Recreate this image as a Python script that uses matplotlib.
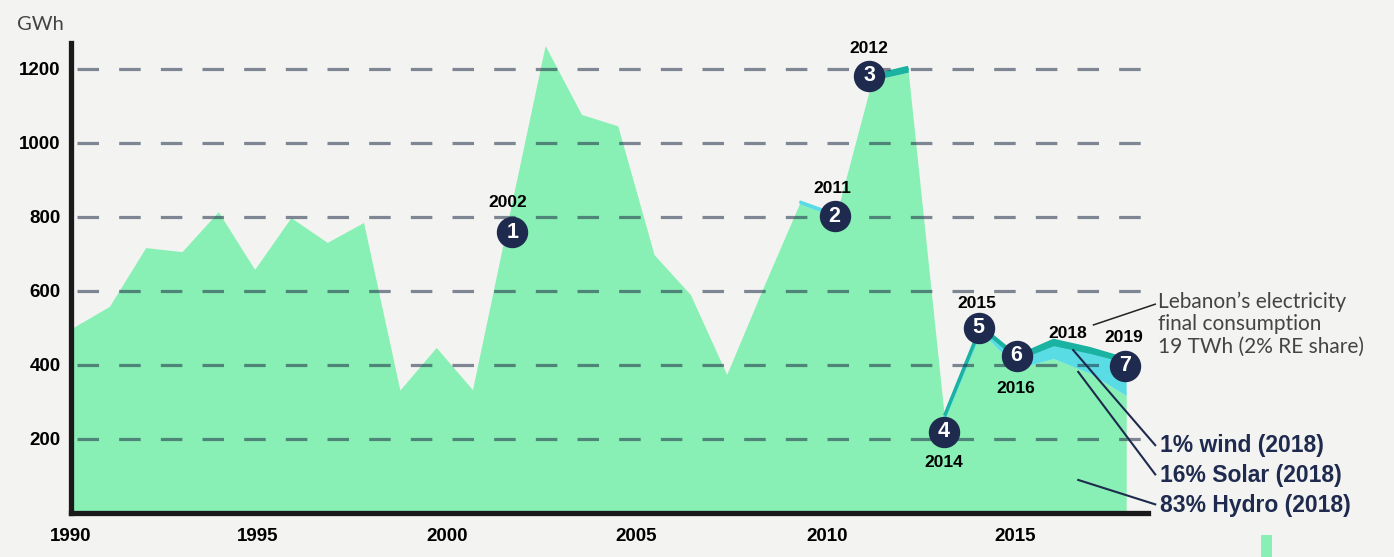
import numpy as np
import matplotlib
matplotlib.use("Agg")
import matplotlib.pyplot as plt
from matplotlib.patches import Rectangle

plt.rcParams['lines.scale_dashes'] = False

# ---------------- data ----------------
years = np.arange(1990, 2020)
hydro = [500, 557, 716, 705, 813, 657, 797, 730, 784, 331,
         446, 332, 800, 1262, 1076, 1045, 697, 589, 373, 607,
         834, 798, 1168, 1190, 252, 488, 390, 416, 376, 316]
solar = [0, 0, 0, 0, 0, 0, 0, 0, 0, 0,
         0, 0, 0, 0, 0, 0, 0, 0, 0, 0,
         6, 7, 0, 0, 4, 7, 22, 35, 54, 89]
wind = [0, 0, 0, 0, 0, 0, 0, 0, 0, 0,
        0, 0, 0, 0, 0, 0, 0, 0, 0, 0,
        0, 0, 12, 13, 6, 8, 10, 14, 13, 9]
solar_segments = [(2010, 2011), (2014, 2019)]
wind_segments = [(2012, 2013), (2014, 2019)]

yticks = [200, 400, 600, 800, 1000, 1200]
xtick_labels = ["1990", "1995", "2000", "2005", "2010", "2015"]
xtick_pos = [1989.93, 1995.07, 2000.29, 2005.51, 2010.76, 2015.95]

ann_numbers = ["1", "2", "3", "4", "5", "6", "7"]
ann_x = [2002.1, 2010.97, 2011.93, 2013.98, 2014.94, 2015.98, 2018.97]
ann_y = [758, 801, 1180, 218, 499, 423, 396]

year_labels = ["2002", "2011", "2012", "2014", "2015", "2016", "2018", "2019"]
year_label_x = [2001.96, 2010.92, 2011.91, 2013.97, 2014.9, 2015.95, 2017.4, 2018.92]
year_label_y = [839, 877, 1255, 134, 566, 336, 485, 472]

share_labels = ["1% wind (2018)", "16% Solar (2018)", "83% Hydro (2018)"]
share_label_y = [180, 101, 20]
share_line_start = [(2017.54, 439), (2017.68, 380), (2017.68, 88)]
total_label = "Lebanon’s electricity\nfinal consumption\n19 TWh (2% RE share)"

# ---------------- style ----------------
BG = "#F3F3F1"
GREEN = "#88F0B4"
CYAN = "#5ADCE4"
TEAL = "#1AB2A0"
NAVY = "#1E2A4E"
BOLD = "Liberation Sans"
LIGHT = "Lato"

hydro = np.array(hydro, float)
solar = np.array(solar, float)
wind = np.array(wind, float)
hs = hydro + solar
total = hs + wind

W, H = 1394, 557
fig = plt.figure(figsize=(W / 100, H / 100), dpi=100, facecolor=BG)
left_px, right_px, bottom_px, top_px = 70.5, 1160, 512.5, 43
ax = fig.add_axes([left_px / W, (H - bottom_px) / H,
                   (right_px - left_px) / W, (bottom_px - top_px) / H])
ax.set_facecolor("none")
xmin = 1990.0
xmax = 1990 + (right_px - left_px) / 36.4
ax.set_xlim(xmin, xmax)
ax.set_ylim(0, (bottom_px - top_px) / 0.37)

# hydro area
ax.fill_between(years, 0, hydro, color=GREEN, lw=0, zorder=1)
# solar and wind layers
for a, b in solar_segments:
    m = (years >= a) & (years <= b)
    ax.fill_between(years[m], hydro[m], hs[m], color=CYAN, lw=0, zorder=2)
    ax.plot(years[m], hs[m], color=CYAN, lw=2.2, zorder=2.5, solid_capstyle='butt')
for a, b in wind_segments:
    m = (years >= a) & (years <= b)
    ax.fill_between(years[m], hs[m], total[m], color=TEAL, lw=0, zorder=3)
    ax.plot(years[m], total[m], color=TEAL, lw=2.4, zorder=3.5, solid_capstyle='butt')

# dashed gridlines
grid_end = 1990 + (1155 - left_px) / 36.4
ax.hlines(yticks, xmin + 0.12, grid_end, colors="#1F2D48", alpha=0.55,
          lw=2.3, linestyles=(0, (15.5, 14.5)), zorder=4)

# spines
for s in ["top", "right"]:
    ax.spines[s].set_visible(False)
ax.spines["left"].set_linewidth(3.8)
ax.spines["bottom"].set_linewidth(3.8)
ax.spines["left"].set_color("#1A1A1A")
ax.spines["bottom"].set_color("#1A1A1A")
ax.spines["bottom"].set_bounds(xmin - 0.05, 1990 + (1148 - left_px) / 36.4)
ax.spines["left"].set_zorder(6)
ax.spines["bottom"].set_zorder(6)

ax.set_yticks(yticks)
ax.set_yticklabels([str(v) for v in yticks], fontfamily=BOLD,
                   fontweight="bold", fontsize=13.5)
ax.set_xticks(xtick_pos)
ax.set_xticklabels(xtick_labels, fontfamily=BOLD, fontweight="bold", fontsize=13.5)
ax.tick_params(axis="y", length=0, pad=7)
ax.tick_params(axis="x", length=0, pad=11)

fig.text(17 / W, 1 - 25 / H, "GWh", fontfamily=LIGHT, fontweight="normal",
         fontsize=14.5, color="#444444", va="center", ha="left")

# numbered circles
for n, x, y in zip(ann_numbers, ann_x, ann_y):
    ax.plot([x], [y], 'o', ms=21.6, color=NAVY, mec=NAVY, zorder=8, clip_on=False)
    ax.text(x, y, n, color="white", fontfamily=BOLD, fontweight="bold",
            fontsize=15.5, ha="center", va="center", zorder=9)

for t, x, y in zip(year_labels, year_label_x, year_label_y):
    ax.text(x, y, t, color="black", fontfamily=BOLD, fontweight="bold",
            fontsize=12.5, ha="center", va="center", zorder=9, clip_on=False)

# annotations on the right
lx = 1990 + (1158 - left_px) / 36.4
ax.text(lx, 510, total_label, fontfamily=LIGHT, fontweight="normal",
        fontsize=15, color="#444444", ha="left", va="center",
        linespacing=1.15, clip_on=False, zorder=9)
ax.plot([2018.1, 2019.8], [507, 563], color="#222222", lw=1.1,
        clip_on=False, zorder=9)

for t, y, (sx, sy) in zip(share_labels, share_label_y, share_line_start):
    ax.text(lx + 0.05, y, t, fontfamily=BOLD, fontweight="bold", fontsize=16.5,
            color=NAVY, ha="left", va="center", clip_on=False, zorder=9)
    ax.plot([sx, 2019.8], [sy, y + 2], color=NAVY, lw=1.5,
            clip_on=False, zorder=9)

# small green element at the bottom right
fig.patches.append(Rectangle((1261 / W, 0), 11 / W, 22 / H, transform=fig.transFigure,
                             facecolor=GREEN, edgecolor="none"))

fig.savefig("out.png", dpi=100, facecolor=BG)
